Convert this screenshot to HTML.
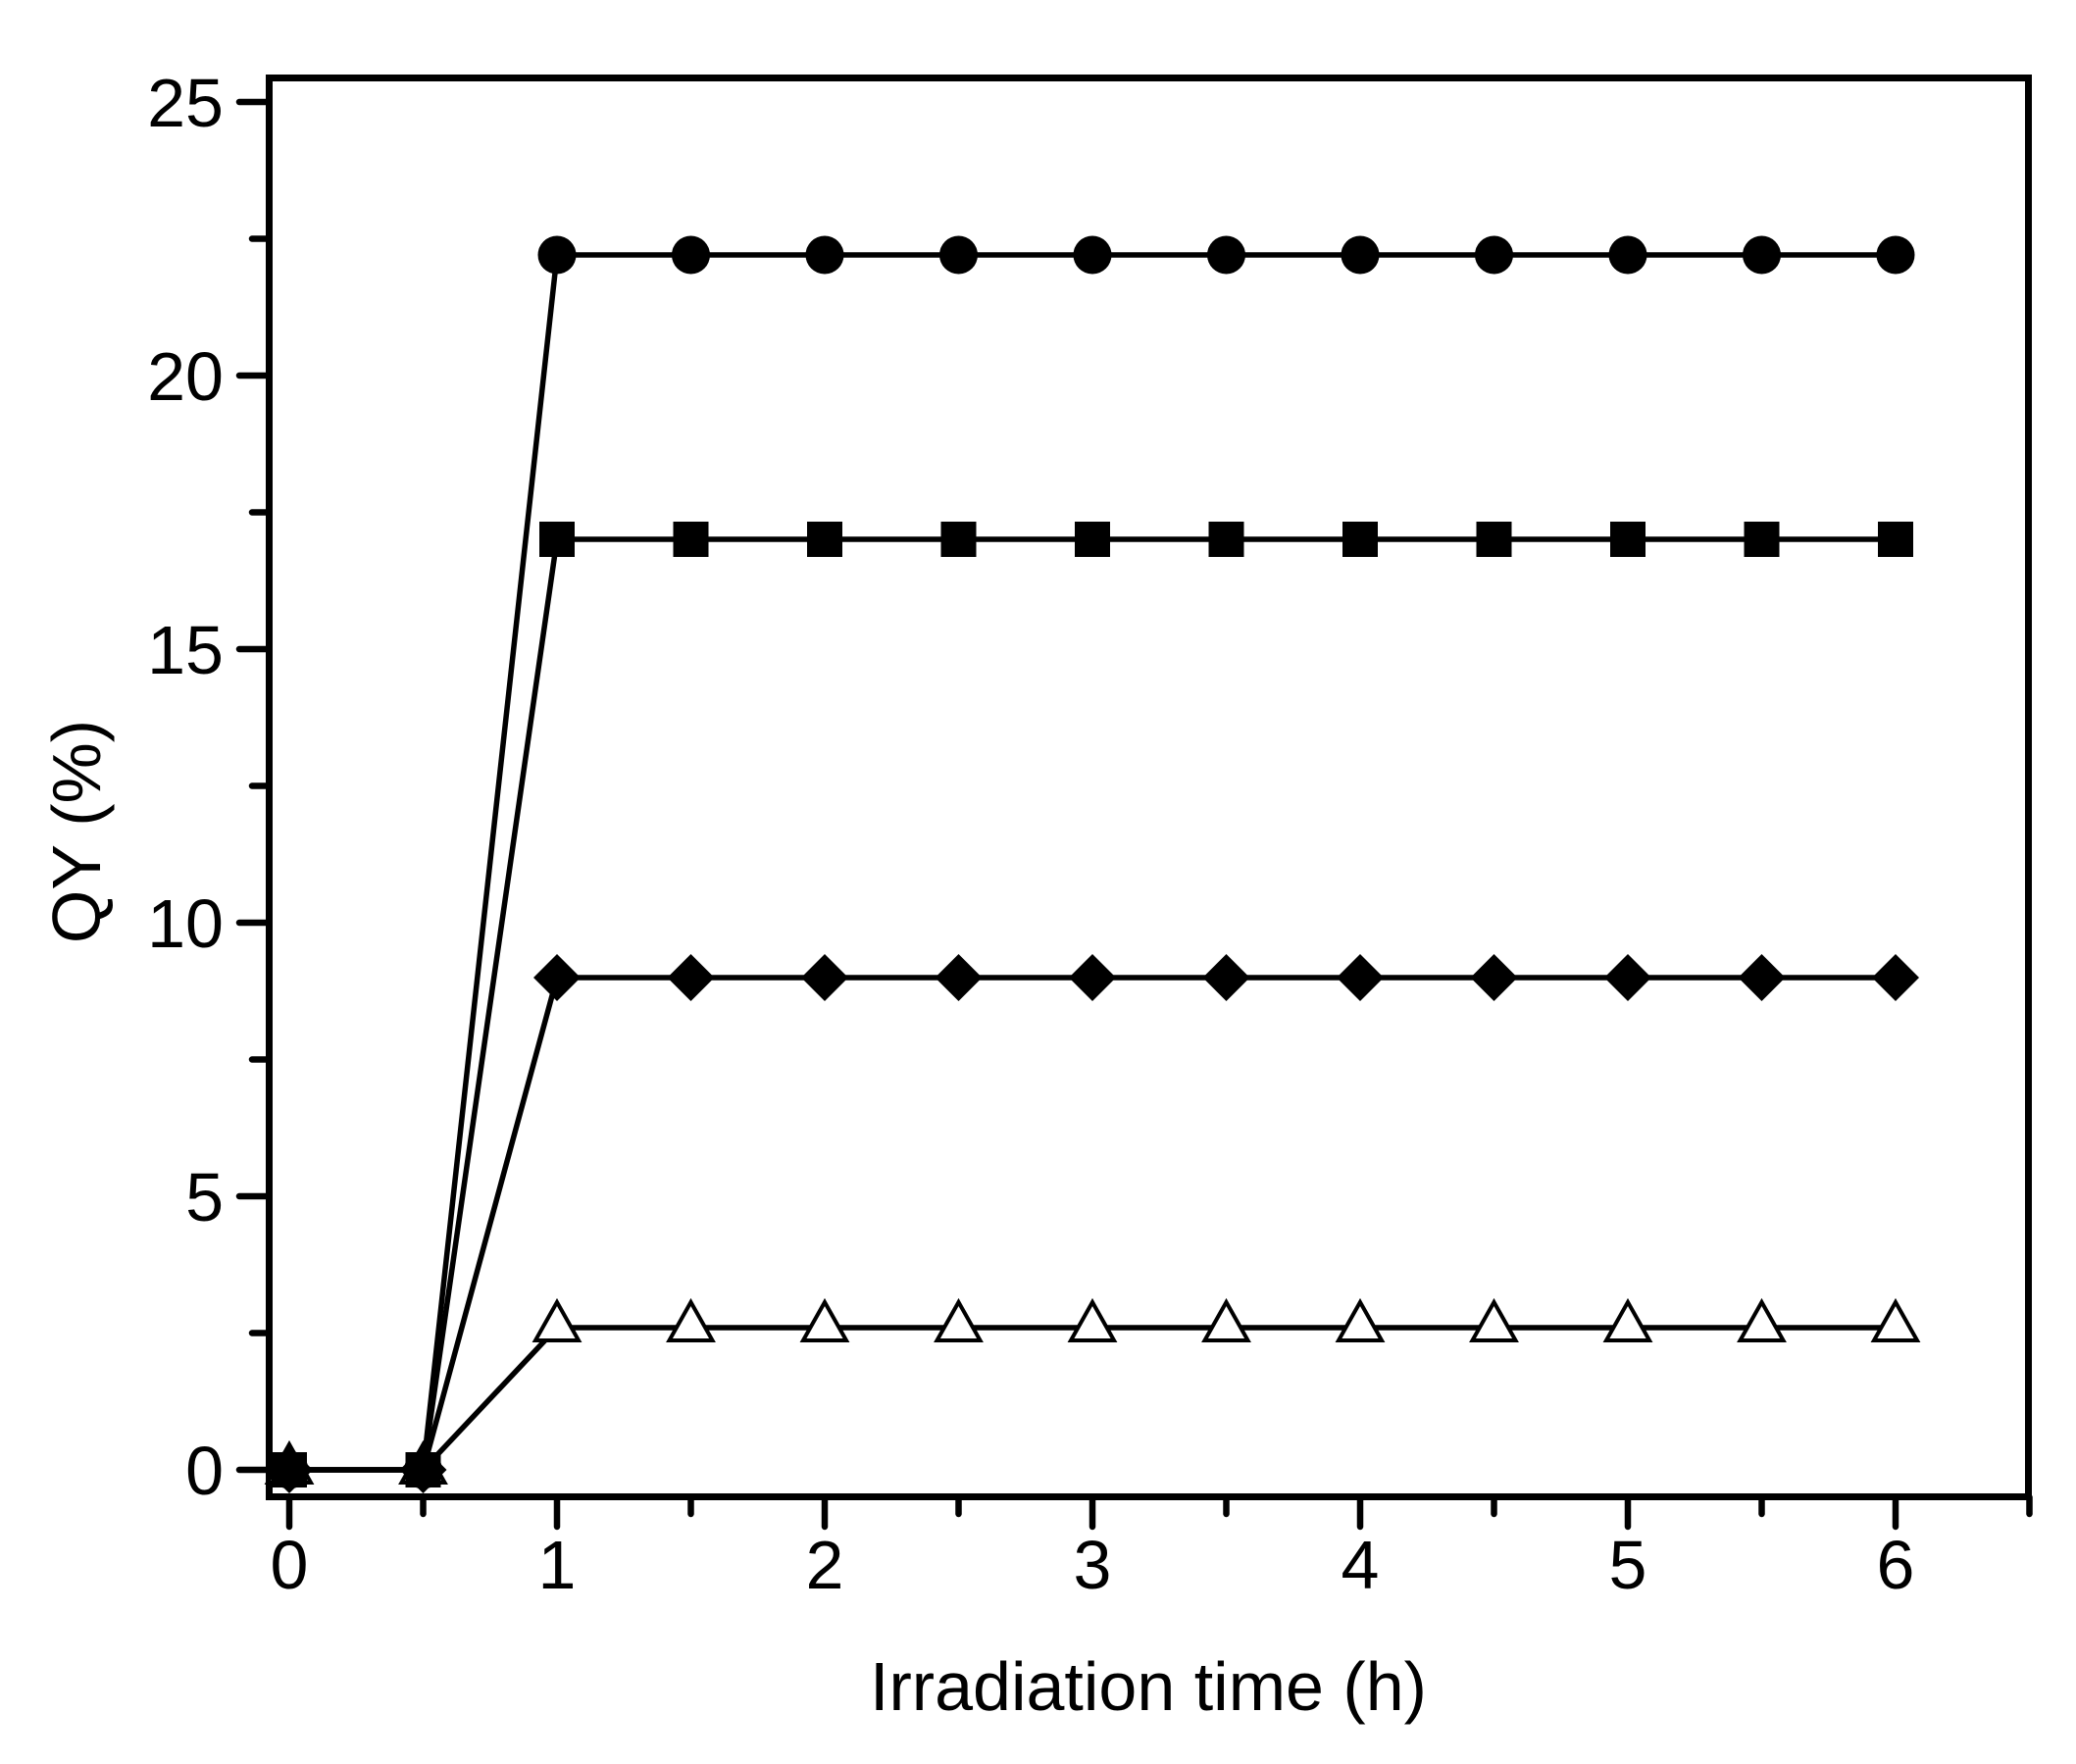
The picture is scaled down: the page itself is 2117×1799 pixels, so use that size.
<!DOCTYPE html>
<html><head><style>html,body{margin:0;padding:0;background:#fff}</style></head><body>
<svg width="2117" height="1794" xmlns="http://www.w3.org/2000/svg" xmlns:xlink="http://www.w3.org/1999/xlink" font-family="Liberation Sans, Arial, sans-serif">
<defs>
<circle id="c" r="19.5" fill="#000"/>
<rect id="s" x="-18" y="-18" width="36" height="36" fill="#000"/>
<polygon id="d" points="0,-24 24,0 0,24 -24,0" fill="#000"/>
<polygon id="t" points="0,-26 22,13 -22,13" fill="#fff" stroke="#000" stroke-width="4"/>
</defs>
<rect width="2117" height="1794" fill="#fff"/>
<rect x="274.5" y="79.5" width="1794" height="1447" fill="none" stroke="#000" stroke-width="7"/>
<g stroke="#000" stroke-width="6.5" stroke-linecap="round">
<line x1="295" y1="1527" x2="295" y2="1557"/>
<line x1="431.5" y1="1527" x2="431.5" y2="1544"/>
<line x1="568" y1="1527" x2="568" y2="1557"/>
<line x1="704.5" y1="1527" x2="704.5" y2="1544"/>
<line x1="841" y1="1527" x2="841" y2="1557"/>
<line x1="977.5" y1="1527" x2="977.5" y2="1544"/>
<line x1="1114" y1="1527" x2="1114" y2="1557"/>
<line x1="1250.5" y1="1527" x2="1250.5" y2="1544"/>
<line x1="1387" y1="1527" x2="1387" y2="1557"/>
<line x1="1523.5" y1="1527" x2="1523.5" y2="1544"/>
<line x1="1660" y1="1527" x2="1660" y2="1557"/>
<line x1="1796.5" y1="1527" x2="1796.5" y2="1544"/>
<line x1="1933" y1="1527" x2="1933" y2="1557"/>
<line x1="2069.5" y1="1527" x2="2069.5" y2="1544"/>
<line x1="274" y1="1499" x2="244" y2="1499"/>
<line x1="274" y1="1359.5" x2="257" y2="1359.5"/>
<line x1="274" y1="1220" x2="244" y2="1220"/>
<line x1="274" y1="1080.5" x2="257" y2="1080.5"/>
<line x1="274" y1="941" x2="244" y2="941"/>
<line x1="274" y1="801.5" x2="257" y2="801.5"/>
<line x1="274" y1="662" x2="244" y2="662"/>
<line x1="274" y1="522.5" x2="257" y2="522.5"/>
<line x1="274" y1="383" x2="244" y2="383"/>
<line x1="274" y1="243.5" x2="257" y2="243.5"/>
<line x1="274" y1="104" x2="244" y2="104"/>
</g>
<g font-size="70" text-anchor="middle">
<text x="295" y="1620">0</text><text x="568" y="1620">1</text><text x="841" y="1620">2</text><text x="1114" y="1620">3</text><text x="1387" y="1620">4</text><text x="1660" y="1620">5</text><text x="1933" y="1620">6</text>
</g>
<g font-size="70" text-anchor="end">
<text x="228" y="1524">0</text><text x="228" y="1245">5</text><text x="228" y="966">10</text><text x="228" y="687">15</text><text x="228" y="408">20</text><text x="228" y="129">25</text>
</g>
<text x="1171" y="1744" font-size="70" text-anchor="middle">Irradiation time (h)</text>
<text transform="translate(102,848) rotate(-90)" font-size="70" text-anchor="middle">QY (%)</text>
<g fill="none" stroke="#000" stroke-width="5.5">
<polyline points="295,1499 431.5,1499 568,1354 1933,1354"/>
<polyline points="295,1499 431.5,1499 568,997 1933,997"/>
<polyline points="295,1499 431.5,1499 568,550 1933,550"/>
<polyline points="295,1499 431.5,1499 568,260 1933,260"/>
</g>
<g>
<use xlink:href="#t" x="295" y="1499"/><use xlink:href="#t" x="431.5" y="1499"/>
<use xlink:href="#d" x="295" y="1499"/><use xlink:href="#d" x="431.5" y="1499"/>
<use xlink:href="#s" x="295" y="1499"/><use xlink:href="#s" x="431.5" y="1499"/>
<use xlink:href="#c" x="295" y="1499"/><use xlink:href="#c" x="431.5" y="1499"/>
</g>
<g>
<use xlink:href="#t" x="568" y="1354"/><use xlink:href="#t" x="704.5" y="1354"/><use xlink:href="#t" x="841" y="1354"/><use xlink:href="#t" x="977.5" y="1354"/><use xlink:href="#t" x="1114" y="1354"/><use xlink:href="#t" x="1250.5" y="1354"/><use xlink:href="#t" x="1387" y="1354"/><use xlink:href="#t" x="1523.5" y="1354"/><use xlink:href="#t" x="1660" y="1354"/><use xlink:href="#t" x="1796.5" y="1354"/><use xlink:href="#t" x="1933" y="1354"/>
<use xlink:href="#d" x="568" y="997"/><use xlink:href="#d" x="704.5" y="997"/><use xlink:href="#d" x="841" y="997"/><use xlink:href="#d" x="977.5" y="997"/><use xlink:href="#d" x="1114" y="997"/><use xlink:href="#d" x="1250.5" y="997"/><use xlink:href="#d" x="1387" y="997"/><use xlink:href="#d" x="1523.5" y="997"/><use xlink:href="#d" x="1660" y="997"/><use xlink:href="#d" x="1796.5" y="997"/><use xlink:href="#d" x="1933" y="997"/>
<use xlink:href="#s" x="568" y="550"/><use xlink:href="#s" x="704.5" y="550"/><use xlink:href="#s" x="841" y="550"/><use xlink:href="#s" x="977.5" y="550"/><use xlink:href="#s" x="1114" y="550"/><use xlink:href="#s" x="1250.5" y="550"/><use xlink:href="#s" x="1387" y="550"/><use xlink:href="#s" x="1523.5" y="550"/><use xlink:href="#s" x="1660" y="550"/><use xlink:href="#s" x="1796.5" y="550"/><use xlink:href="#s" x="1933" y="550"/>
<use xlink:href="#c" x="568" y="260"/><use xlink:href="#c" x="704.5" y="260"/><use xlink:href="#c" x="841" y="260"/><use xlink:href="#c" x="977.5" y="260"/><use xlink:href="#c" x="1114" y="260"/><use xlink:href="#c" x="1250.5" y="260"/><use xlink:href="#c" x="1387" y="260"/><use xlink:href="#c" x="1523.5" y="260"/><use xlink:href="#c" x="1660" y="260"/><use xlink:href="#c" x="1796.5" y="260"/><use xlink:href="#c" x="1933" y="260"/>
</g>
</svg>
</body></html>
